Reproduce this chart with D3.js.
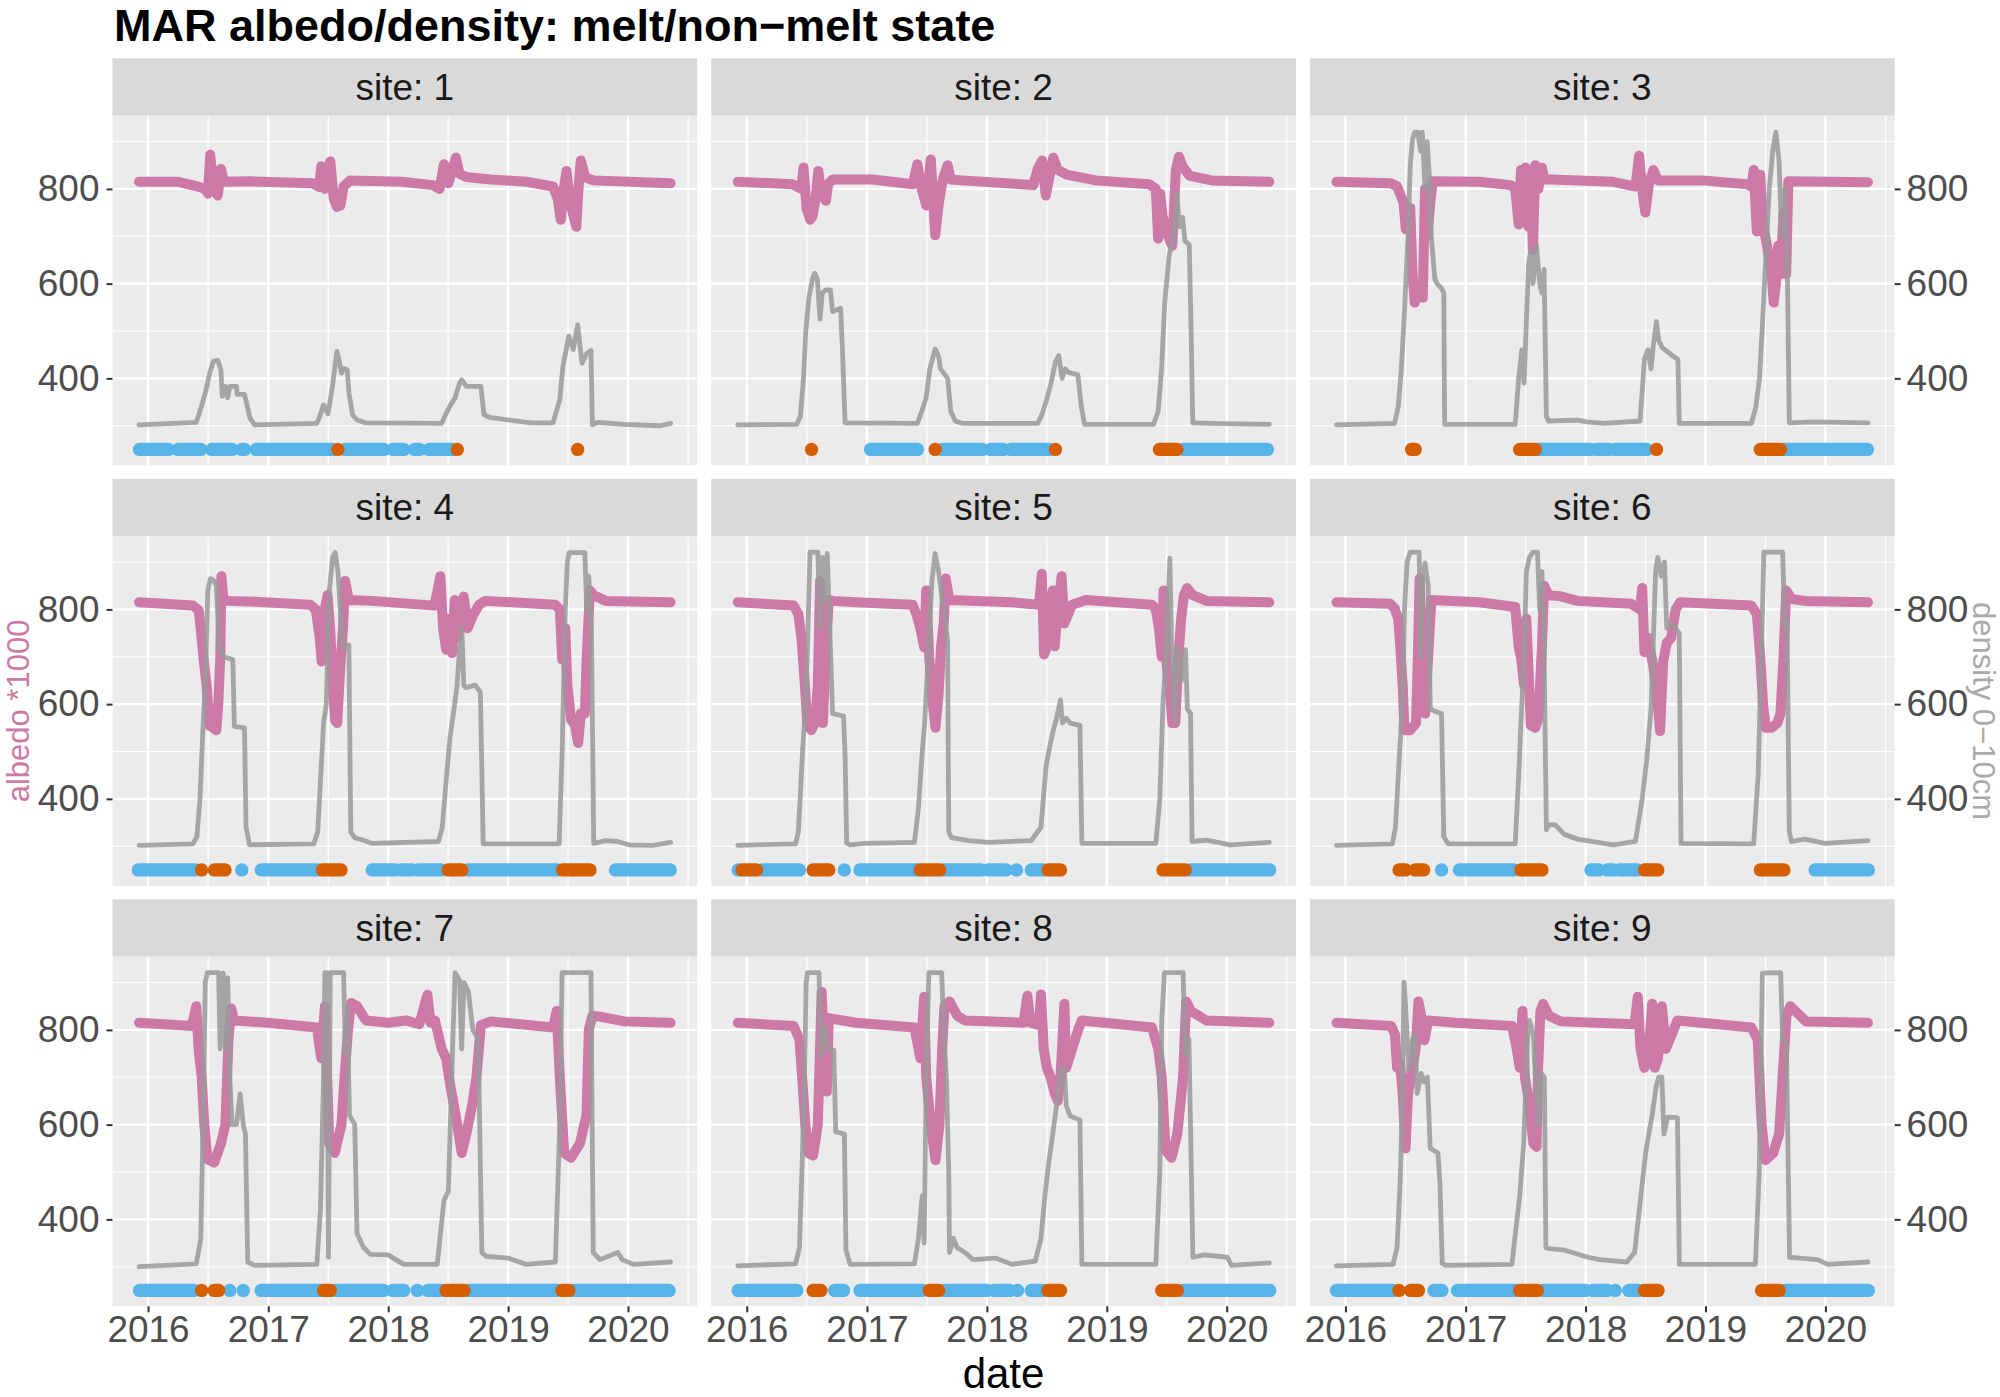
<!DOCTYPE html>
<html>
<head>
<meta charset="utf-8">
<script src="https://cdn.jsdelivr.net/npm/d3@7"></script>
<style>
  body { margin: 0; background: #fff; }
  svg { display: block; }
</style>
</head>
<body>
<svg id="chart" width="2000" height="1397"></svg>
<script>
// ---- data (decimal year, value) ----
var sites = [1, 2, 3, 4, 5, 6, 7, 8, 9];
var yearTicks = [2016, 2017, 2018, 2019, 2020];
var yearMinor = [2016.5, 2017.5, 2018.5, 2019.5, 2020.5];
var yTicks = [400, 600, 800];
var yMinor = [300, 500, 700, 900];
var xRange = [2015.925, 2020.354];
var yRange = [250, 921];
var dotLevel = 250;

// albedo * 1000, one array per site
var albedo = [
  [[2015.925,815],[2016.253,815],[2016.401,806],[2016.476,800],[2016.498,790],[2016.517,872],[2016.543,800],[2016.580,786],[2016.606,842],[2016.632,815],[2016.848,816],[2017.368,812],[2017.424,804],[2017.442,848],[2017.472,800],[2017.517,858],[2017.546,780],[2017.572,762],[2017.602,765],[2017.628,805],[2017.684,818],[2018.112,815],[2018.372,808],[2018.428,800],[2018.465,852],[2018.502,812],[2018.565,866],[2018.595,832],[2018.651,825],[2018.855,820],[2019.152,815],[2019.375,805],[2019.413,780],[2019.439,735],[2019.461,795],[2019.487,838],[2019.517,772],[2019.569,720],[2019.587,800],[2019.606,860],[2019.643,825],[2019.710,818],[2020.354,812]],
  [[2015.925,815],[2016.379,810],[2016.454,800],[2016.472,845],[2016.498,758],[2016.528,735],[2016.547,742],[2016.573,780],[2016.595,838],[2016.621,790],[2016.658,775],[2016.677,810],[2016.714,820],[2017.048,820],[2017.383,810],[2017.420,852],[2017.457,800],[2017.494,765],[2017.532,862],[2017.569,702],[2017.599,770],[2017.632,820],[2017.673,850],[2017.699,820],[2017.792,818],[2018.387,808],[2018.424,842],[2018.461,860],[2018.491,786],[2018.517,820],[2018.554,866],[2018.591,840],[2018.665,830],[2018.907,818],[2019.353,810],[2019.409,800],[2019.428,695],[2019.446,790],[2019.465,742],[2019.502,706],[2019.546,680],[2019.576,840],[2019.602,868],[2019.632,848],[2019.688,828],[2019.874,818],[2020.354,815]],
  [[2015.925,815],[2016.372,812],[2016.428,806],[2016.454,790],[2016.483,770],[2016.502,715],[2016.520,740],[2016.539,760],[2016.558,620],[2016.576,560],[2016.602,580],[2016.625,600],[2016.643,570],[2016.662,800],[2016.680,700],[2016.706,770],[2016.725,816],[2017.115,815],[2017.375,808],[2017.413,800],[2017.442,725],[2017.461,840],[2017.480,760],[2017.498,845],[2017.524,720],[2017.543,820],[2017.561,670],[2017.580,850],[2017.606,800],[2017.636,845],[2017.654,820],[2017.710,820],[2018.230,815],[2018.416,805],[2018.446,870],[2018.472,800],[2018.498,750],[2018.528,810],[2018.565,840],[2018.602,818],[2018.974,818],[2019.346,810],[2019.383,805],[2019.402,840],[2019.428,710],[2019.457,830],[2019.476,730],[2019.513,680],[2019.550,625],[2019.569,560],[2019.587,600],[2019.606,680],[2019.625,620],[2019.651,750],[2019.673,620],[2019.691,816],[2020.354,814]],
  [[2015.925,815],[2016.373,808],[2016.422,798],[2016.445,740],[2016.464,690],[2016.487,640],[2016.510,555],[2016.542,550],[2016.568,545],[2016.584,600],[2016.601,700],[2016.610,870],[2016.627,820],[2016.666,818],[2016.893,816],[2017.347,810],[2017.396,800],[2017.429,740],[2017.445,690],[2017.471,800],[2017.494,830],[2017.516,760],[2017.536,650],[2017.558,565],[2017.575,560],[2017.601,680],[2017.623,760],[2017.640,860],[2017.672,820],[2017.867,818],[2018.386,808],[2018.435,870],[2018.458,760],[2018.484,715],[2018.510,780],[2018.532,708],[2018.555,820],[2018.575,740],[2018.597,770],[2018.630,827],[2018.662,760],[2018.711,790],[2018.760,810],[2018.808,818],[2019.393,810],[2019.432,800],[2019.451,694],[2019.477,760],[2019.494,640],[2019.526,567],[2019.558,555],[2019.584,518],[2019.607,580],[2019.640,580],[2019.656,700],[2019.682,840],[2019.714,830],[2019.815,818],[2020.354,815]],
  [[2015.925,815],[2016.390,808],[2016.429,790],[2016.455,740],[2016.481,650],[2016.503,560],[2016.536,545],[2016.568,560],[2016.591,640],[2016.610,860],[2016.633,560],[2016.656,700],[2016.682,820],[2016.714,818],[2016.909,815],[2017.380,810],[2017.412,790],[2017.445,760],[2017.477,720],[2017.494,840],[2017.519,700],[2017.549,600],[2017.571,550],[2017.597,620],[2017.617,720],[2017.640,770],[2017.656,865],[2017.688,820],[2018.208,815],[2018.435,810],[2018.458,875],[2018.477,705],[2018.500,720],[2018.526,800],[2018.549,840],[2018.565,722],[2018.591,800],[2018.623,870],[2018.646,770],[2018.678,790],[2018.711,810],[2018.825,820],[2019.377,810],[2019.409,800],[2019.435,760],[2019.458,700],[2019.474,840],[2019.500,680],[2019.523,640],[2019.546,560],[2019.571,560],[2019.597,700],[2019.620,780],[2019.643,830],[2019.669,845],[2019.718,830],[2019.831,818],[2020.354,815]],
  [[2015.925,815],[2016.372,812],[2016.409,802],[2016.439,780],[2016.454,730],[2016.476,640],[2016.491,545],[2016.539,545],[2016.587,560],[2016.602,700],[2016.617,865],[2016.639,700],[2016.662,580],[2016.688,700],[2016.714,820],[2017.115,815],[2017.413,805],[2017.442,720],[2017.461,700],[2017.487,640],[2017.506,780],[2017.543,555],[2017.580,550],[2017.606,570],[2017.636,720],[2017.654,850],[2017.691,830],[2017.784,828],[2017.933,818],[2018.379,812],[2018.454,800],[2018.472,845],[2018.491,710],[2018.520,740],[2018.565,680],[2018.602,600],[2018.621,543],[2018.647,690],[2018.677,730],[2018.714,740],[2018.751,800],[2018.788,815],[2019.383,808],[2019.428,790],[2019.457,700],[2019.480,600],[2019.502,550],[2019.550,550],[2019.599,560],[2019.625,580],[2019.651,700],[2019.673,840],[2019.717,822],[2019.829,818],[2020.354,815]],
  [[2015.925,815],[2016.364,808],[2016.401,850],[2016.420,760],[2016.446,700],[2016.468,600],[2016.494,527],[2016.550,520],[2016.606,560],[2016.643,600],[2016.669,780],[2016.691,845],[2016.717,820],[2016.996,815],[2017.405,805],[2017.442,740],[2017.472,850],[2017.509,560],[2017.554,540],[2017.610,600],[2017.636,700],[2017.665,800],[2017.691,857],[2017.740,850],[2017.814,820],[2018.000,815],[2018.149,820],[2018.260,812],[2018.327,874],[2018.353,815],[2018.390,820],[2018.446,760],[2018.483,740],[2018.520,680],[2018.576,600],[2018.613,540],[2018.651,580],[2018.699,640],[2018.736,700],[2018.773,810],[2018.855,818],[2019.375,805],[2019.405,840],[2019.431,700],[2019.468,540],[2019.524,530],[2019.599,560],[2019.654,620],[2019.673,800],[2019.703,830],[2019.766,828],[2019.970,818],[2020.354,815]],
  [[2015.925,815],[2016.390,808],[2016.438,780],[2016.461,700],[2016.487,600],[2016.513,540],[2016.552,535],[2016.591,600],[2016.623,880],[2016.643,760],[2016.666,670],[2016.682,825],[2016.909,815],[2017.396,805],[2017.445,740],[2017.477,870],[2017.494,700],[2017.532,600],[2017.571,525],[2017.604,600],[2017.627,760],[2017.646,850],[2017.688,860],[2017.753,830],[2017.818,820],[2018.305,815],[2018.338,872],[2018.364,815],[2018.435,810],[2018.451,875],[2018.474,760],[2018.500,720],[2018.532,700],[2018.565,666],[2018.591,650],[2018.614,700],[2018.646,855],[2018.662,720],[2018.711,760],[2018.760,800],[2018.792,820],[2019.377,805],[2019.429,760],[2019.458,700],[2019.490,546],[2019.539,530],[2019.588,580],[2019.636,700],[2019.662,860],[2019.701,840],[2019.831,820],[2020.354,815]],
  [[2015.925,815],[2016.380,808],[2016.412,790],[2016.429,720],[2016.455,730],[2016.477,660],[2016.500,550],[2016.519,660],[2016.542,700],[2016.565,730],[2016.584,760],[2016.607,860],[2016.630,830],[2016.656,778],[2016.688,820],[2016.916,815],[2017.386,808],[2017.419,770],[2017.451,720],[2017.474,840],[2017.494,700],[2017.526,650],[2017.565,560],[2017.591,553],[2017.604,720],[2017.623,840],[2017.646,855],[2017.695,830],[2017.792,818],[2018.409,812],[2018.435,870],[2018.458,760],[2018.490,720],[2018.523,740],[2018.555,855],[2018.578,720],[2018.604,740],[2018.636,850],[2018.669,760],[2018.718,790],[2018.766,820],[2019.383,805],[2019.435,780],[2019.468,600],[2019.500,525],[2019.565,540],[2019.614,580],[2019.643,700],[2019.675,830],[2019.708,850],[2019.838,818],[2020.354,815]]
];

// density 0-10cm, one array per site
var density = [
  [[2015.925,302],[2016.401,307],[2016.439,337],[2016.476,369],[2016.513,411],[2016.543,436],[2016.580,438],[2016.606,418],[2016.617,362],[2016.643,383],[2016.662,359],[2016.680,383],[2016.736,383],[2016.740,366],[2016.803,366],[2016.818,349],[2016.848,316],[2016.885,302],[2017.405,305],[2017.424,316],[2017.461,344],[2017.498,325],[2017.535,383],[2017.572,457],[2017.591,438],[2017.610,411],[2017.628,421],[2017.658,418],[2017.673,369],[2017.703,323],[2017.740,312],[2017.814,306],[2018.446,305],[2018.483,326],[2018.520,344],[2018.558,359],[2018.595,390],[2018.613,397],[2018.651,383],[2018.773,383],[2018.799,323],[2018.855,317],[2019.190,306],[2019.375,306],[2019.431,355],[2019.457,425],[2019.506,489],[2019.543,461],[2019.580,513],[2019.599,470],[2019.617,432],[2019.654,452],[2019.691,459],[2019.703,302],[2019.747,307],[2019.970,303],[2020.268,300],[2020.354,305]],
  [[2015.925,302],[2016.416,303],[2016.446,320],[2016.472,400],[2016.491,500],[2016.517,570],[2016.547,610],[2016.565,622],[2016.587,610],[2016.610,525],[2016.628,580],[2016.658,587],[2016.695,587],[2016.714,541],[2016.751,545],[2016.781,548],[2016.796,460],[2016.818,306],[2017.420,305],[2017.457,330],[2017.494,360],[2017.524,420],[2017.569,462],[2017.599,445],[2017.613,420],[2017.643,410],[2017.673,400],[2017.699,330],[2017.736,310],[2017.792,305],[2018.424,305],[2018.461,325],[2018.498,355],[2018.535,390],[2018.572,435],[2018.599,448],[2018.628,400],[2018.654,420],[2018.684,412],[2018.758,408],[2018.788,340],[2018.814,303],[2019.390,303],[2019.428,330],[2019.457,420],[2019.483,560],[2019.520,660],[2019.558,700],[2019.584,790],[2019.606,720],[2019.632,740],[2019.651,690],[2019.688,682],[2019.703,500],[2019.717,306],[2019.874,305],[2020.354,303]],
  [[2015.925,302],[2016.409,305],[2016.439,340],[2016.465,420],[2016.491,540],[2016.520,700],[2016.539,850],[2016.558,905],[2016.576,920],[2016.602,920],[2016.625,880],[2016.639,920],[2016.662,800],[2016.680,900],[2016.699,820],[2016.714,700],[2016.743,610],[2016.762,600],[2016.799,590],[2016.818,580],[2016.825,303],[2017.413,303],[2017.442,400],[2017.468,460],[2017.487,390],[2017.506,520],[2017.524,640],[2017.543,670],[2017.561,600],[2017.591,680],[2017.617,600],[2017.636,580],[2017.654,630],[2017.673,320],[2017.691,310],[2017.933,312],[2018.007,308],[2018.156,305],[2018.454,310],[2018.491,440],[2018.520,460],[2018.546,420],[2018.565,470],[2018.591,520],[2018.610,480],[2018.639,465],[2018.714,450],[2018.770,440],[2018.781,305],[2019.383,305],[2019.420,340],[2019.450,400],[2019.476,520],[2019.502,650],[2019.532,800],[2019.561,880],[2019.587,920],[2019.613,860],[2019.636,700],[2019.662,800],[2019.680,680],[2019.699,306],[2019.903,308],[2020.354,306]],
  [[2015.925,302],[2016.373,305],[2016.406,320],[2016.432,400],[2016.455,540],[2016.477,650],[2016.497,840],[2016.519,865],[2016.552,860],[2016.568,850],[2016.594,720],[2016.627,700],[2016.705,694],[2016.718,553],[2016.802,550],[2016.815,340],[2016.844,303],[2017.380,305],[2017.412,330],[2017.438,450],[2017.461,560],[2017.484,600],[2017.510,840],[2017.536,910],[2017.558,920],[2017.581,880],[2017.601,800],[2017.623,720],[2017.672,725],[2017.688,330],[2017.721,318],[2017.802,312],[2017.867,306],[2018.419,310],[2018.451,340],[2018.484,440],[2018.516,530],[2018.549,590],[2018.575,640],[2018.597,725],[2018.614,760],[2018.630,640],[2018.646,635],[2018.727,640],[2018.769,625],[2018.792,305],[2019.425,305],[2019.451,500],[2019.477,800],[2019.494,900],[2019.510,920],[2019.640,920],[2019.656,800],[2019.672,870],[2019.695,760],[2019.714,306],[2019.815,312],[2019.912,310],[2020.010,303],[2020.205,302],[2020.354,308]],
  [[2015.925,302],[2016.406,305],[2016.429,330],[2016.448,420],[2016.464,500],[2016.481,570],[2016.503,700],[2016.526,921],[2016.591,921],[2016.610,760],[2016.630,910],[2016.649,820],[2016.669,918],[2016.692,750],[2016.714,580],[2016.805,575],[2016.818,490],[2016.831,307],[2016.860,303],[2016.974,306],[2017.396,308],[2017.429,380],[2017.461,500],[2017.481,560],[2017.500,650],[2017.519,750],[2017.542,860],[2017.568,918],[2017.597,880],[2017.623,830],[2017.649,780],[2017.672,736],[2017.682,330],[2017.705,318],[2017.851,312],[2018.013,308],[2018.370,312],[2018.451,340],[2018.494,470],[2018.516,500],[2018.549,540],[2018.581,570],[2018.614,609],[2018.630,560],[2018.662,570],[2018.695,560],[2018.776,555],[2018.792,306],[2019.409,306],[2019.442,400],[2019.468,600],[2019.494,700],[2019.526,908],[2019.542,700],[2019.568,560],[2019.591,720],[2019.623,650],[2019.656,715],[2019.672,590],[2019.698,580],[2019.711,310],[2019.831,313],[2020.029,303],[2020.354,308]],
  [[2015.925,302],[2016.390,305],[2016.416,340],[2016.446,480],[2016.476,610],[2016.491,800],[2016.513,900],[2016.539,921],[2016.613,921],[2016.625,700],[2016.639,860],[2016.662,898],[2016.688,850],[2016.706,590],[2016.743,585],[2016.799,580],[2016.818,320],[2016.855,305],[2017.413,305],[2017.442,450],[2017.468,600],[2017.487,700],[2017.506,880],[2017.532,910],[2017.561,921],[2017.599,921],[2017.617,800],[2017.636,880],[2017.654,700],[2017.673,335],[2017.691,345],[2017.747,345],[2017.822,325],[2017.933,315],[2018.230,303],[2018.416,310],[2018.472,400],[2018.509,480],[2018.546,590],[2018.584,880],[2018.602,910],[2018.632,870],[2018.658,900],[2018.677,760],[2018.706,770],[2018.751,760],[2018.781,750],[2018.796,306],[2019.402,305],[2019.439,450],[2019.465,700],[2019.487,921],[2019.643,921],[2019.662,760],[2019.680,780],[2019.699,330],[2019.717,310],[2019.829,315],[2019.996,306],[2020.354,312]],
  [[2015.925,300],[2016.401,306],[2016.439,360],[2016.457,600],[2016.476,900],[2016.494,921],[2016.587,921],[2016.599,760],[2016.625,920],[2016.643,760],[2016.662,910],[2016.680,700],[2016.699,600],[2016.736,600],[2016.766,665],[2016.792,600],[2016.810,580],[2016.829,310],[2016.885,303],[2017.405,305],[2017.435,420],[2017.461,700],[2017.472,921],[2017.491,921],[2017.502,320],[2017.517,921],[2017.628,921],[2017.643,750],[2017.658,850],[2017.677,620],[2017.721,600],[2017.740,370],[2017.796,340],[2017.851,326],[2018.000,325],[2018.130,305],[2018.409,305],[2018.465,440],[2018.502,460],[2018.539,780],[2018.558,921],[2018.595,905],[2018.613,760],[2018.632,900],[2018.669,880],[2018.706,800],[2018.751,780],[2018.781,330],[2018.818,322],[2019.004,318],[2019.152,305],[2019.394,310],[2019.431,600],[2019.450,921],[2019.691,921],[2019.710,330],[2019.766,315],[2019.915,330],[2019.952,315],[2020.045,305],[2020.354,310]],
  [[2015.925,302],[2016.406,306],[2016.438,340],[2016.461,520],[2016.481,700],[2016.494,900],[2016.506,921],[2016.601,921],[2016.617,745],[2016.649,806],[2016.682,757],[2016.724,757],[2016.740,585],[2016.812,580],[2016.825,335],[2016.860,305],[2017.396,306],[2017.429,360],[2017.461,450],[2017.477,350],[2017.494,700],[2017.516,921],[2017.623,921],[2017.640,800],[2017.662,700],[2017.682,500],[2017.688,330],[2017.721,360],[2017.753,340],[2017.818,330],[2017.883,315],[2018.078,318],[2018.208,305],[2018.403,312],[2018.451,360],[2018.484,450],[2018.516,520],[2018.549,580],[2018.581,640],[2018.614,720],[2018.646,715],[2018.662,640],[2018.695,618],[2018.776,610],[2018.792,305],[2019.409,305],[2019.442,500],[2019.458,820],[2019.481,921],[2019.636,921],[2019.653,750],[2019.685,780],[2019.718,320],[2019.812,325],[2020.006,320],[2020.039,303],[2020.354,308]],
  [[2015.925,302],[2016.396,305],[2016.429,340],[2016.455,480],[2016.471,620],[2016.487,901],[2016.500,850],[2016.526,715],[2016.558,780],[2016.578,792],[2016.597,666],[2016.630,708],[2016.656,690],[2016.682,700],[2016.705,550],[2016.769,540],[2016.786,476],[2016.805,307],[2016.834,303],[2017.386,305],[2017.419,380],[2017.451,450],[2017.484,560],[2017.516,780],[2017.532,820],[2017.565,790],[2017.581,700],[2017.604,600],[2017.630,708],[2017.656,700],[2017.669,340],[2017.695,338],[2017.825,335],[2017.890,330],[2018.019,320],[2018.117,315],[2018.344,310],[2018.409,330],[2018.474,480],[2018.506,550],[2018.555,620],[2018.588,680],[2018.610,700],[2018.636,700],[2018.653,580],[2018.685,616],[2018.766,615],[2018.782,305],[2019.416,305],[2019.448,500],[2019.474,920],[2019.627,921],[2019.643,780],[2019.675,771],[2019.701,320],[2019.789,318],[2019.935,315],[2020.019,305],[2020.354,310]]
];

// melt state runs: [start, end, melt? 1 : 0]
var meltRuns = [
  [[2015.929,2016.170,0],[2016.250,2016.439,0],[2016.530,2016.699,0],[2016.780,2016.803,0],[2016.900,2017.535,0],[2017.580,2017.580,1],[2017.640,2017.963,0],[2018.040,2018.130,0],[2018.220,2018.260,0],[2018.340,2018.540,0],[2018.576,2018.576,1],[2019.580,2019.580,1]],
  [[2016.539,2016.539,1],[2017.030,2017.420,0],[2017.569,2017.569,1],[2017.625,2017.960,0],[2018.030,2018.140,0],[2018.200,2018.520,0],[2018.572,2018.572,1],[2019.439,2019.584,1],[2019.640,2020.338,0]],
  [[2016.550,2016.580,1],[2017.450,2017.580,1],[2017.600,2018.040,0],[2018.090,2018.200,0],[2018.250,2018.509,0],[2018.591,2018.591,1],[2019.457,2019.625,1],[2019.640,2020.349,0]],
  [[2015.919,2016.390,0],[2016.445,2016.445,1],[2016.552,2016.640,1],[2016.779,2016.779,0],[2016.942,2017.412,0],[2017.451,2017.607,1],[2017.867,2018.060,0],[2018.110,2018.200,0],[2018.250,2018.440,0],[2018.500,2018.614,1],[2018.662,2019.409,0],[2019.455,2019.683,1],[2019.896,2020.351,0]],
  [[2015.929,2015.929,0],[2015.961,2016.081,1],[2016.130,2016.438,0],[2016.552,2016.682,1],[2016.812,2016.812,0],[2016.942,2017.429,0],[2017.445,2017.607,1],[2017.640,2017.950,0],[2018.010,2018.159,0],[2018.247,2018.247,0],[2018.370,2018.468,0],[2018.510,2018.614,1],[2019.468,2019.653,1],[2019.695,2020.357,0]],
  [[2016.446,2016.500,1],[2016.580,2016.651,1],[2016.799,2016.799,0],[2016.948,2017.400,0],[2017.461,2017.636,1],[2018.045,2018.110,0],[2018.180,2018.230,0],[2018.280,2018.430,0],[2018.491,2018.602,1],[2019.457,2019.654,1],[2019.914,2020.357,0]],
  [[2015.929,2016.383,0],[2016.446,2016.446,1],[2016.550,2016.587,1],[2016.680,2016.680,0],[2016.792,2016.792,0],[2016.941,2017.442,0],[2017.461,2017.517,1],[2017.554,2017.960,0],[2018.040,2018.130,0],[2018.242,2018.242,0],[2018.330,2018.446,0],[2018.483,2018.632,1],[2018.669,2019.413,0],[2019.450,2019.506,1],[2019.543,2020.342,0]],
  [[2015.929,2016.416,0],[2016.552,2016.617,1],[2016.731,2016.805,0],[2016.942,2017.461,0],[2017.519,2017.597,1],[2017.640,2018.000,0],[2018.060,2018.192,0],[2018.256,2018.256,0],[2018.370,2018.468,0],[2018.510,2018.614,1],[2019.458,2019.588,1],[2019.636,2020.357,0]],
  [[2015.925,2016.396,0],[2016.445,2016.445,1],[2016.542,2016.607,1],[2016.737,2016.802,0],[2016.932,2017.419,0],[2017.451,2017.597,1],[2017.646,2018.000,0],[2018.060,2018.182,0],[2018.247,2018.247,0],[2018.360,2018.442,0],[2018.490,2018.604,1],[2019.468,2019.614,1],[2019.659,2020.357,0]]
];

// ---- layout ----
var font = "'Liberation Sans', Arial, Helvetica, sans-serif";
var colLeft = [112.5, 711.2, 1309.9], pw = 584.7;
var rowTop = [58.3, 478.8, 899.3], stripH = 57.4, ph = 349.6;
var dotR = 6.7;
var pink = '#CC79A7', grey = '#999999';
var stateColor = ['#56B4E9', '#D55E00'];

var toDate = function(y) {
  var yr = Math.floor(y);
  var a = Date.UTC(yr, 0, 1), b = Date.UTC(yr + 1, 0, 1);
  return new Date(a + (y - yr) * (b - a));
};
var expand = function(r) {
  var d = (r[1] - r[0]) * 0.05;
  return [r[0] - d, r[1] + d];
};

var xd = expand(xRange);
var x = d3.scaleUtc().domain([toDate(xd[0]), toDate(xd[1])]).range([0, pw]);
var y = d3.scaleLinear().domain(expand(yRange)).range([ph, 0]);

var svg = d3.select('#chart').style('font-family', font);
svg.append('rect').attr('width', 2000).attr('height', 1397).attr('fill', '#fff');

svg.append('text')
    .attr('x', 114).attr('y', 41)
    .attr('font-size', 45).attr('font-weight', 'bold').attr('fill', '#000')
    .text('MAR albedo/density: melt/non\u2212melt state');

var line = d3.line()
    .x(function(d) { return x(toDate(d[0])); })
    .y(function(d) { return y(d[1]); });

var styleAxis = function(g) {
  g.select('.domain').remove();
  g.selectAll('.tick line').attr('stroke', '#333').attr('stroke-width', 2);
  g.selectAll('.tick text').attr('fill', '#4D4D4D').attr('font-size', 37).attr('font-family', font);
};

sites.forEach(function(site, i) {
  var col = i % 3, row = Math.floor(i / 3);
  var px = colLeft[col], py = rowTop[row] + stripH;

  // strip
  var strip = svg.append('g').attr('transform', 'translate(' + px + ',' + rowTop[row] + ')');
  strip.append('rect').attr('width', pw).attr('height', stripH).attr('fill', '#D9D9D9');
  strip.append('text')
      .attr('x', pw / 2).attr('y', stripH / 2 + 13)
      .attr('text-anchor', 'middle').attr('font-size', 37).attr('fill', '#1A1A1A')
      .text('site: ' + site);

  var g = svg.append('g').attr('transform', 'translate(' + px + ',' + py + ')');
  g.append('rect').attr('width', pw).attr('height', ph).attr('fill', '#EBEBEB');

  // grid
  g.selectAll('.vminor').data(yearMinor).enter().append('line')
      .attr('x1', function(d) { return x(toDate(d)); }).attr('x2', function(d) { return x(toDate(d)); })
      .attr('y1', 0).attr('y2', ph).attr('stroke', '#fff').attr('stroke-width', 1.1);
  g.selectAll('.hminor').data(yMinor).enter().append('line')
      .attr('y1', y).attr('y2', y).attr('x1', 0).attr('x2', pw)
      .attr('stroke', '#fff').attr('stroke-width', 1.1);
  g.selectAll('.vmajor').data(yearTicks).enter().append('line')
      .attr('x1', function(d) { return x(toDate(d)); }).attr('x2', function(d) { return x(toDate(d)); })
      .attr('y1', 0).attr('y2', ph).attr('stroke', '#fff').attr('stroke-width', 2.3);
  g.selectAll('.hmajor').data(yTicks).enter().append('line')
      .attr('y1', y).attr('y2', y).attr('x1', 0).attr('x2', pw)
      .attr('stroke', '#fff').attr('stroke-width', 2.3);

  // albedo, then density on top
  g.append('path').datum(albedo[i]).attr('d', line)
      .attr('fill', 'none').attr('stroke', pink).attr('stroke-width', 10)
      .attr('stroke-linejoin', 'round').attr('stroke-linecap', 'round');
  g.append('path').datum(density[i]).attr('d', line)
      .attr('fill', 'none').attr('stroke', grey).attr('stroke-opacity', 0.85).attr('stroke-width', 4.8)
      .attr('stroke-linejoin', 'round').attr('stroke-linecap', 'round');

  // melt / non-melt dots (non-melt first, melt drawn over)
  var runs = meltRuns[i].slice().sort(function(a, b) { return a[2] - b[2]; });
  g.selectAll('.run').data(runs).enter().append('rect')
      .attr('x', function(d) { return x(toDate(d[0])) - dotR; })
      .attr('width', function(d) { return x(toDate(d[1])) - x(toDate(d[0])) + 2 * dotR; })
      .attr('y', y(dotLevel) - dotR).attr('height', 2 * dotR)
      .attr('rx', dotR).attr('ry', dotR)
      .attr('fill', function(d) { return stateColor[d[2]]; });

  // axes
  if (col === 0) {
    g.append('g').call(d3.axisLeft(y).tickValues(yTicks).tickSize(6).tickPadding(7)).call(styleAxis);
  }
  if (col === 2) {
    g.append('g').attr('transform', 'translate(' + pw + ',0)')
        .call(d3.axisRight(y).tickValues(yTicks).tickSize(6).tickPadding(6)).call(styleAxis);
  }
  if (row === 2) {
    g.append('g').attr('transform', 'translate(0,' + ph + ')')
        .call(d3.axisBottom(x).tickValues(yearTicks.map(toDate)).tickFormat(d3.utcFormat('%Y'))
            .tickSize(6).tickPadding(3))
        .call(styleAxis);
  }
});

// axis titles
svg.append('text')
    .attr('transform', 'translate(1003.5,1388)')
    .attr('text-anchor', 'middle').attr('font-size', 42).attr('fill', '#000')
    .text('date');
svg.append('text')
    .attr('transform', 'translate(18,711) rotate(-90)')
    .attr('text-anchor', 'middle').attr('dominant-baseline', 'central')
    .attr('font-size', 31).attr('fill', pink)
    .text('albedo *1000');
svg.append('text')
    .attr('transform', 'translate(1983,711) rotate(90)')
    .attr('text-anchor', 'middle').attr('dominant-baseline', 'central')
    .attr('font-size', 31).attr('fill', '#A9A9A9')
    .text('density 0\u221210cm');
</script>
</body>
</html>
